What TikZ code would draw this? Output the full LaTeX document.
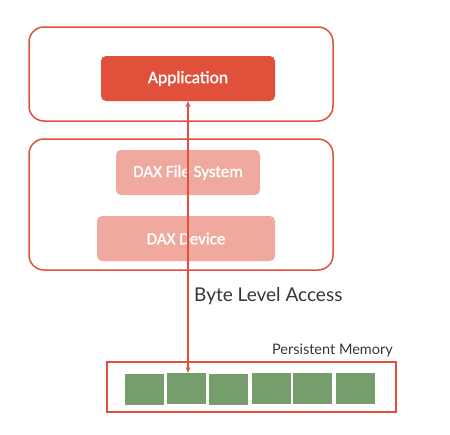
\documentclass[tikz,border=0pt]{standalone}
\usepackage{fontspec}
\setmainfont{Carlito}
\newfontface\boxfont{Carlito}[FakeBold=1.2]
\newfontfamily\labelfont{Lato}
\usetikzlibrary{arrows.meta}
\definecolor{daxred}{HTML}{E0503A}
\definecolor{daxpink}{HTML}{F0A99F}
\definecolor{pmgreen}{HTML}{759E6C}
\definecolor{labelgray}{HTML}{3A3533}

\begin{document}
\begin{tikzpicture}[x=1pt, y=-1pt,
    layer/.style={draw=daxred, line width=1.5pt, rounded corners=15pt},
    appbox/.style={fill=daxred, rounded corners=5pt, text=white, font=\boxfont\fontsize{17.5}{20}\selectfont},
    daxbox/.style={fill=daxpink, rounded corners=5pt, text=white, font=\boxfont\fontsize{17}{20}\selectfont},
    cell/.style={fill=pmgreen, minimum width=39pt, minimum height=31pt, inner sep=0pt}]
        \useasboundingbox (0,0) rectangle (450,434);

        % Layers
        \draw[layer] (29,27) rectangle (333,121);
        \draw[layer] (29,139) rectangle (333,270);

        % Boxes
        \node[appbox, minimum width=174pt, minimum height=45pt] (app) at (188,78.5) {Application};
        \node[daxbox, minimum width=144pt, minimum height=45pt] (daxfs) at (188,172.5) {DAX File System};
        \node[daxbox, minimum width=178pt, minimum height=45pt] (daxdev) at (186,238.5) {DAX Device};

        % Persistent memory
        \draw[draw=daxred, line width=1.8pt] (107,362) rectangle (396,412);
        \node[anchor=south east, inner sep=0pt, text=labelgray, font=\labelfont\fontsize{14.5}{16}\selectfont] (pmlabel) at (393,357) {Persistent Memory};
        \node[cell] (blk1) at (144.5,389) {};
        \node[cell] (blk2) at (186.5,388.5) {};
        \node[cell] (blk3) at (228.5,389) {};
        \node[cell] (blk4) at (271.5,388.5) {};
        \node[cell] (blk5) at (312.5,388.5) {};
        \node[cell] (blk6) at (355.5,388.5) {};

        % Access arrow
        \draw[{Stealth[length=6pt,width=5pt]}-{Stealth[length=6pt,width=5pt]}, daxred, line width=1.2pt] (app.south) -- (app.south |- blk2.north);
        \node[anchor=west, inner sep=0pt, text=labelgray, font=\labelfont\fontsize{19}{22}\selectfont] (access) at (194,296) {Byte Level Access};
    \end{tikzpicture}
\end{document}
